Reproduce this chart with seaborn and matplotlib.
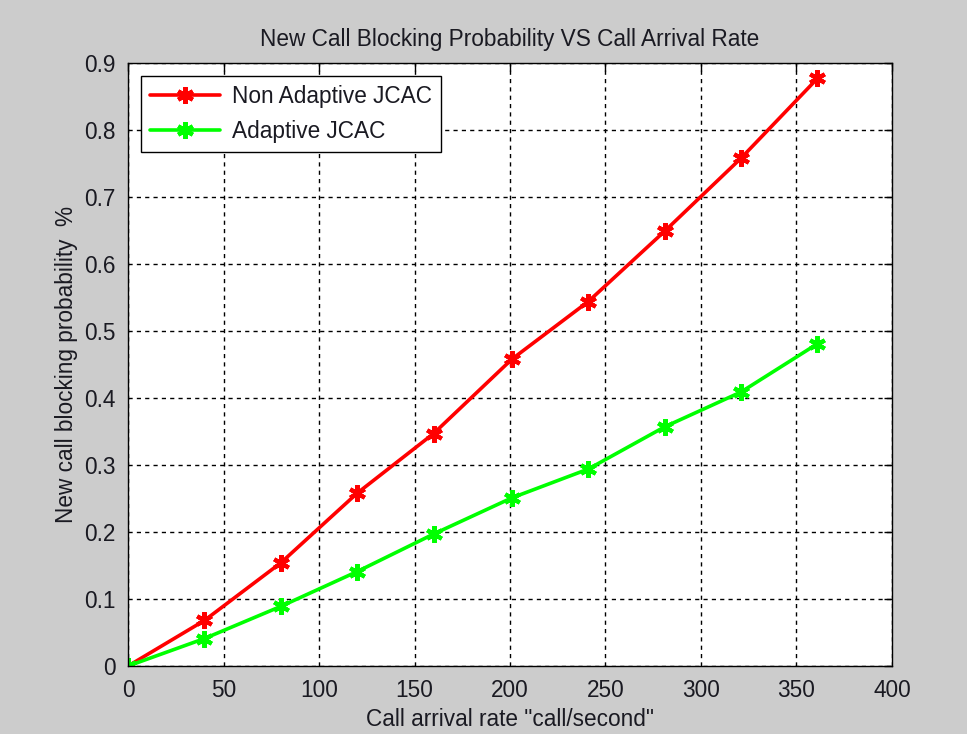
import matplotlib
matplotlib.use("Agg")
import matplotlib.pyplot as plt
import seaborn as sns
import pandas as pd

# Data
arrival_rate = [0, 40, 80, 120, 160, 201, 241, 281, 321, 361]
non_adaptive = [0.0, 0.068, 0.154, 0.258, 0.347, 0.458, 0.544, 0.649, 0.758, 0.877]
adaptive = [0.0, 0.041, 0.089, 0.141, 0.197, 0.251, 0.294, 0.357, 0.409, 0.481]
series_names = ["Non Adaptive JCAC", "Adaptive JCAC"]
x_ticks = [0, 50, 100, 150, 200, 250, 300, 350, 400]
y_ticks = [0, 0.1, 0.2, 0.3, 0.4, 0.5, 0.6, 0.7, 0.8, 0.9]

df = pd.concat([
    pd.DataFrame({"x": arrival_rate, "y": non_adaptive, "series": series_names[0]}),
    pd.DataFrame({"x": arrival_rate, "y": adaptive, "series": series_names[1]}),
])

sns.set_theme(style="white")
plt.rcParams["font.family"] = ["Liberation Sans", "DejaVu Sans"]
TXT = "#1a1a22"
FS = 16.3

fig = plt.figure(figsize=(9.67, 7.34), dpi=100, facecolor="#cccccc")
ax = fig.add_axes([0.1324, 0.0926, 0.79, 0.8216])
ax.set_facecolor("white")

sns.lineplot(data=df, x="x", y="y", hue="series", hue_order=series_names,
             palette={series_names[0]: "#ff0000", series_names[1]: "#00ff00"},
             marker=(6, 2, 0), markersize=12, markeredgewidth=3.0,
             linewidth=2.6, ax=ax, sort=False, estimator=None)
for ln in ax.lines:
    ln.set_markeredgecolor(ln.get_color())
    ln.set_markerfacecolor(ln.get_color())

ax.set_xlim(0, 400)
ax.set_ylim(0, 0.9)
ax.set_xticks(x_ticks)
ax.set_yticks(y_ticks)
ax.set_xticklabels([str(t) for t in x_ticks])
ax.set_yticklabels(["0" if t == 0 else f"{t:g}" for t in y_ticks])

ax.grid(True, color="black", linestyle=(0, (3, 3)), linewidth=1.0)
ax.tick_params(direction="in", length=6, width=1, top=True, right=True,
               labelsize=FS, colors="black", labelcolor=TXT)
ax.tick_params(axis="x", pad=9)
ax.tick_params(axis="y", pad=9)
for s in ax.spines.values():
    s.set_visible(True)
    s.set_color("black")
    s.set_linewidth(1.0)

ax.set_title("New Call Blocking Probability VS Call Arrival Rate", fontsize=FS, pad=12, color=TXT)
ax.set_xlabel('Call arrival rate "call/second"', fontsize=FS, labelpad=5, color=TXT)
ax.set_ylabel("New call blocking probability  %", fontsize=FS, labelpad=4, color=TXT)

leg = ax.legend(loc="upper left", bbox_to_anchor=(0.017, 0.978), fontsize=FS,
                frameon=True, fancybox=False, edgecolor="black", framealpha=1,
                borderpad=0.4, handlelength=3.1, labelspacing=0.5, borderaxespad=0,
                handletextpad=0.5)
leg.get_frame().set_linewidth(1.0)
for h in leg.get_lines():
    h.set_markeredgecolor(h.get_color())
    h.set_markerfacecolor(h.get_color())
for t in leg.get_texts():
    t.set_color(TXT)

fig.savefig("out.png", dpi=100, facecolor=fig.get_facecolor())
